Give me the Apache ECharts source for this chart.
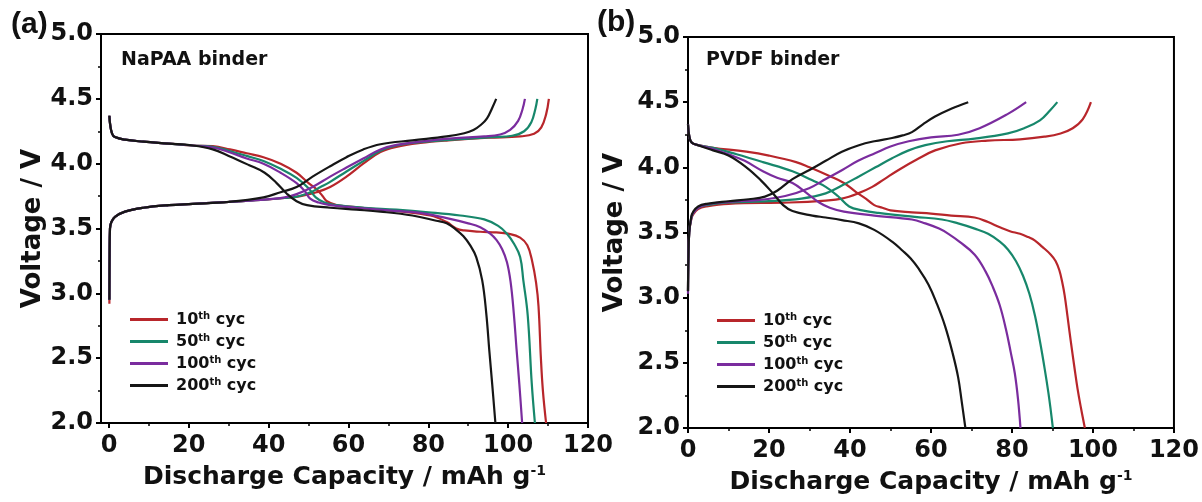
<!DOCTYPE html>
<html>
<head>
<meta charset="utf-8">
<script src="https://cdn.jsdelivr.net/npm/echarts@6/dist/echarts.min.js"></script>
<style>
html, body { margin: 0; padding: 0; background: #fff; }
#chart { width: 1202px; height: 502px; }
</style>
</head>
<body>
<div id="chart"></div>
<script>
// tick values
const xTicks = [0, 20, 40, 60, 80, 100, 120]
const xMinor = [10, 30, 50, 70, 90, 110]
const yTicks = [2.0, 2.5, 3.0, 3.5, 4.0, 4.5, 5.0]
const yMinor = [2.25, 2.75, 3.25, 3.75, 4.25, 4.75]

const cycles = ['10', '50', '100', '200']
const colors = ['#b8262b', '#17876b', '#7a2c9e', '#161616']

// (a) NaPAA binder, [capacity, voltage]
const napaaCharge10 = [[0.1, 2.92], [0.15, 3.3], [0.25, 3.5], [0.6, 3.55], [1.5, 3.59], [4, 3.63], [8.6, 3.66], [15, 3.68], [21, 3.69], [30, 3.705], [38, 3.72], [44, 3.735], [48, 3.75], [52, 3.78], [55.4, 3.82], [59.5, 3.9], [63.7, 4.0], [68, 4.09], [72, 4.13], [78, 4.16], [85, 4.18], [95, 4.2], [103, 4.21], [106.5, 4.23], [108.3, 4.28], [109.5, 4.38], [110.2, 4.5]]
const napaaCharge50 = [[0.1, 2.95], [0.15, 3.3], [0.25, 3.5], [0.6, 3.55], [1.5, 3.59], [4, 3.63], [8.6, 3.66], [15, 3.68], [21, 3.69], [30, 3.705], [38, 3.72], [44, 3.735], [47, 3.745], [50.5, 3.78], [53, 3.82], [55.4, 3.86], [59.5, 3.94], [63.7, 4.02], [68, 4.1], [72, 4.14], [78, 4.165], [86, 4.185], [96, 4.205], [101, 4.215], [104, 4.25], [105.8, 4.32], [106.8, 4.42], [107.3, 4.5]]
const napaaCharge100 = [[0.1, 2.95], [0.15, 3.3], [0.25, 3.5], [0.6, 3.55], [1.5, 3.59], [4, 3.63], [8.6, 3.66], [15, 3.68], [21, 3.69], [30, 3.705], [38, 3.72], [44, 3.74], [47, 3.765], [51, 3.82], [55.4, 3.9], [59.5, 3.97], [63.7, 4.04], [68, 4.11], [72, 4.145], [78, 4.17], [86, 4.195], [94, 4.21], [98, 4.225], [100.5, 4.26], [102.5, 4.33], [103.6, 4.42], [104.2, 4.5]]
const napaaCharge200 = [[0.1, 2.95], [0.15, 3.3], [0.25, 3.5], [0.6, 3.55], [1.5, 3.59], [4, 3.63], [8.6, 3.66], [15, 3.68], [21, 3.69], [30, 3.705], [38.7, 3.74], [43, 3.78], [47, 3.82], [51, 3.9], [55.4, 3.98], [59.5, 4.05], [63.7, 4.11], [68, 4.15], [76, 4.18], [84.6, 4.21], [89, 4.235], [91.3, 4.26], [93.2, 4.3], [94.7, 4.35], [96, 4.43], [97, 4.5]]

const napaaDisch10 = [[0.1, 4.37], [0.3, 4.3], [0.8, 4.23], [1.5, 4.205], [4, 4.185], [8.6, 4.17], [15, 4.155], [21, 4.14], [26, 4.135], [30.3, 4.11], [34.5, 4.08], [38.7, 4.05], [43, 4.0], [47, 3.93], [50, 3.85], [52.1, 3.8], [53.5, 3.75], [54.6, 3.71], [57, 3.68], [59.6, 3.67], [65, 3.655], [72, 3.635], [80.5, 3.6], [84.6, 3.55], [87, 3.5], [89, 3.485], [93, 3.475], [97, 3.47], [100, 3.46], [103, 3.43], [104.8, 3.37], [106, 3.25], [107, 3.08], [107.6, 2.9], [108.2, 2.5], [108.7, 2.25], [109.5, 2.0]]
const napaaDisch50 = [[0.1, 4.37], [0.3, 4.3], [0.8, 4.23], [1.5, 4.205], [4, 4.185], [8.6, 4.17], [15, 4.155], [21, 4.14], [26, 4.13], [30, 4.1], [34.5, 4.06], [38.7, 4.02], [43, 3.96], [47, 3.89], [50, 3.81], [51.8, 3.74], [54, 3.7], [57, 3.68], [64, 3.66], [72, 3.645], [80, 3.625], [88, 3.6], [94, 3.57], [97.5, 3.52], [99.7, 3.46], [101.5, 3.38], [103, 3.28], [103.8, 3.1], [104.9, 2.83], [105.9, 2.31], [106.7, 2.0]]
const napaaDisch100 = [[0.1, 4.37], [0.3, 4.3], [0.8, 4.23], [1.5, 4.205], [4, 4.185], [8.6, 4.17], [15, 4.155], [21, 4.14], [26, 4.125], [30, 4.09], [34.5, 4.04], [38.7, 4.0], [43, 3.93], [47, 3.85], [49, 3.79], [50.4, 3.73], [52.5, 3.7], [55.4, 3.68], [62, 3.66], [70, 3.64], [78, 3.62], [84.6, 3.58], [90, 3.54], [93, 3.51], [95.5, 3.46], [97.1, 3.41], [98.5, 3.34], [99.7, 3.24], [100.6, 3.09], [101.4, 2.85], [102.1, 2.57], [102.8, 2.3], [103.5, 2.0]]
const napaaDisch200 = [[0.1, 4.37], [0.3, 4.3], [0.8, 4.23], [1.5, 4.205], [4, 4.185], [8.6, 4.17], [15, 4.155], [21, 4.14], [26, 4.11], [30, 4.06], [35, 3.99], [39, 3.93], [42, 3.85], [44.5, 3.77], [47, 3.71], [49.6, 3.68], [55.4, 3.66], [62, 3.645], [68, 3.63], [76, 3.6], [82, 3.56], [84.6, 3.54], [87, 3.49], [88.8, 3.44], [90.5, 3.37], [92, 3.28], [93.5, 3.1], [94.5, 2.85], [95.3, 2.55], [96, 2.3], [96.8, 2.0]]

// (b) PVDF binder
const pvdfCharge10 = [[0, 3.05], [0.1, 3.3], [0.3, 3.5], [0.8, 3.6], [1.3, 3.64], [2.5, 3.68], [4.6, 3.7], [10, 3.72], [25, 3.73], [34, 3.745], [38, 3.76], [42, 3.8], [45.5, 3.85], [48.5, 3.91], [52, 3.98], [56.5, 4.06], [61, 4.13], [67.5, 4.185], [74, 4.205], [82, 4.215], [88, 4.235], [92, 4.26], [95, 4.3], [97.5, 4.37], [99.5, 4.5]]
const pvdfCharge50 = [[0, 3.05], [0.1, 3.3], [0.3, 3.5], [0.8, 3.61], [1.3, 3.65], [2.5, 3.69], [4.6, 3.71], [10, 3.73], [20, 3.74], [28, 3.76], [34, 3.8], [38, 3.86], [42.2, 3.93], [46.3, 4.0], [50.4, 4.07], [54.5, 4.13], [58.6, 4.17], [64, 4.2], [70.8, 4.22], [79, 4.26], [83, 4.3], [86.9, 4.36], [89.5, 4.44], [91.2, 4.5]]
const pvdfCharge100 = [[0, 3.03], [0.1, 3.3], [0.3, 3.5], [0.8, 3.61], [1.3, 3.65], [2.5, 3.69], [4.6, 3.715], [10, 3.735], [17.7, 3.75], [24, 3.78], [29.9, 3.84], [34, 3.91], [38.1, 3.98], [42, 4.05], [46.3, 4.11], [50, 4.16], [54.5, 4.2], [60, 4.23], [66.7, 4.25], [72, 4.3], [79, 4.41], [83.5, 4.5]]
const pvdfCharge200 = [[0, 3.05], [0.1, 3.3], [0.3, 3.5], [0.8, 3.62], [1.3, 3.66], [2.5, 3.7], [4.6, 3.72], [10, 3.74], [15, 3.755], [19, 3.775], [22, 3.82], [25.8, 3.91], [30, 3.98], [34, 4.05], [38, 4.12], [42.2, 4.17], [46, 4.2], [50.4, 4.225], [53, 4.245], [55.3, 4.27], [58, 4.33], [61, 4.39], [65, 4.45], [69.2, 4.5]]

const pvdfDisch10 = [[0, 4.33], [0.3, 4.24], [0.9, 4.19], [2.5, 4.17], [6.2, 4.15], [14.4, 4.12], [20, 4.09], [26.7, 4.04], [30, 4.0], [34.8, 3.935], [38.5, 3.88], [41.5, 3.81], [43.9, 3.76], [46, 3.71], [48, 3.69], [50, 3.67], [55.3, 3.655], [60, 3.645], [65, 3.63], [70.8, 3.615], [74.1, 3.58], [77, 3.54], [79.5, 3.51], [82, 3.49], [84, 3.465], [85.6, 3.44], [87.5, 3.39], [89.6, 3.33], [90.8, 3.28], [91.7, 3.21], [92.4, 3.12], [93, 3.02], [93.7, 2.86], [94.5, 2.67], [95.4, 2.47], [96.2, 2.3], [97, 2.16], [98, 2.0]]
const pvdfDisch50 = [[0, 4.33], [0.3, 4.24], [0.9, 4.19], [2.5, 4.17], [6.2, 4.15], [12, 4.1], [18.5, 4.04], [25.8, 3.97], [30.7, 3.9], [34, 3.85], [37, 3.78], [39.8, 3.7], [43, 3.67], [47, 3.65], [56, 3.62], [62.7, 3.6], [66.7, 3.57], [70.8, 3.53], [74.1, 3.49], [77, 3.43], [79, 3.37], [81, 3.28], [82.7, 3.17], [84.3, 3.03], [85.7, 2.86], [87, 2.65], [88.1, 2.45], [89, 2.27], [89.6, 2.13], [90.1, 2.0]]
const pvdfDisch100 = [[0, 4.33], [0.3, 4.24], [0.9, 4.19], [2.5, 4.17], [6.2, 4.14], [10, 4.1], [14, 4.05], [18.5, 3.97], [22, 3.92], [25.8, 3.88], [29, 3.81], [32.4, 3.73], [35, 3.69], [38.5, 3.66], [46, 3.63], [55.3, 3.6], [58.6, 3.57], [62, 3.53], [64.3, 3.49], [67, 3.43], [70.8, 3.33], [73.5, 3.2], [75.3, 3.08], [77, 2.94], [78.5, 2.76], [79.7, 2.58], [80.7, 2.42], [81.5, 2.22], [82.1, 2.0]]
const pvdfDisch200 = [[0, 4.33], [0.3, 4.24], [0.9, 4.19], [2.5, 4.17], [6.2, 4.13], [10, 4.09], [14.4, 4.0], [18, 3.9], [21, 3.8], [23.5, 3.71], [25.8, 3.665], [30.7, 3.63], [34, 3.615], [38, 3.595], [42.2, 3.57], [46, 3.52], [50.4, 3.43], [53, 3.36], [55, 3.3], [57, 3.22], [59.4, 3.1], [61.5, 2.95], [63.5, 2.78], [65.3, 2.58], [66.7, 2.39], [67.6, 2.2], [68.5, 2.0]]

const napaaCharge = [napaaCharge10, napaaCharge50, napaaCharge100, napaaCharge200]
const napaaDisch = [napaaDisch10, napaaDisch50, napaaDisch100, napaaDisch200]
const pvdfCharge = [pvdfCharge10, pvdfCharge50, pvdfCharge100, pvdfCharge200]
const pvdfDisch = [pvdfDisch10, pvdfDisch50, pvdfDisch100, pvdfDisch200]

const FONT = 'DejaVu Sans'

function xAxes(grid, min) {
  return [{
    type: 'value', gridIndex: grid, min: min, max: 120, position: 'bottom',
    name: '{a|Discharge Capacity / mAh g}{s|-1}', nameLocation: 'middle', nameGap: 41,
    nameTextStyle: {
      rich: {
        a: { fontFamily: FONT, fontWeight: 'bold', fontSize: 25, color: '#111' },
        s: { fontFamily: FONT, fontWeight: 'bold', fontSize: 14, color: '#111', padding: [0, 0, 12, 0] }
      }
    },
    axisLine: { onZero: false, lineStyle: { color: '#000', width: 2 } },
    axisTick: { customValues: xTicks, length: 5, lineStyle: { color: '#000', width: 2 } },
    axisLabel: { customValues: xTicks, margin: 11, fontFamily: FONT, fontWeight: 'bold', fontSize: 24, color: '#111' },
    splitLine: { show: false }
  }, {
    type: 'value', gridIndex: grid, min: min, max: 120, position: 'bottom',
    axisLine: { show: false, onZero: false },
    axisTick: { customValues: xMinor, length: 3, lineStyle: { color: '#000', width: 1.5 } },
    axisLabel: { show: false },
    splitLine: { show: false }
  }]
}

function yAxes(grid, gap) {
  return [{
    type: 'value', gridIndex: grid, min: 2, max: 5, position: 'left',
    name: 'Voltage / V', nameLocation: 'middle', nameGap: gap,
    nameTextStyle: { fontFamily: FONT, fontWeight: 'bold', fontSize: 26, color: '#111' },
    axisLine: { onZero: false, lineStyle: { color: '#000', width: 2 } },
    axisTick: { customValues: yTicks, length: 5, lineStyle: { color: '#000', width: 2 } },
    axisLabel: {
      customValues: yTicks, margin: 8, fontFamily: FONT, fontWeight: 'bold', fontSize: 24, color: '#111',
      formatter: v => v.toFixed(1)
    },
    splitLine: { show: false }
  }, {
    type: 'value', gridIndex: grid, min: 2, max: 5, position: 'left',
    axisLine: { show: false, onZero: false },
    axisTick: { customValues: yMinor, length: 3, lineStyle: { color: '#000', width: 1.5 } },
    axisLabel: { show: false },
    splitLine: { show: false }
  }]
}

function curve(name, data, color, axis) {
  return {
    type: 'line', name: name, data: data,
    xAxisIndex: axis, yAxisIndex: axis,
    symbol: 'none', showSymbol: false,
    smooth: 0.4,
    lineStyle: { width: 2.2, color: color },
    itemStyle: { color: color },
    emphasis: { disabled: true }
  }
}

let series = []
cycles.forEach((c, i) => {
  let name = c + 'th cyc'
  series.push(curve(name, napaaCharge[i], colors[i], 0))
  series.push(curve(name, napaaDisch[i], colors[i], 0))
  series.push(curve(name, pvdfCharge[i], colors[i], 2))
  series.push(curve(name, pvdfDisch[i], colors[i], 2))
})

function legend(left, top) {
  return {
    orient: 'vertical', left: left, top: top, padding: 0, itemGap: 5.5,
    icon: 'rect', itemWidth: 38, itemHeight: 3,
    data: cycles.map(c => c + 'th cyc'),
    formatter: name => name.replace(/^(\d+)th cyc$/, '{n|$1}{s|th}{n| cyc}'),
    textStyle: {
      fontFamily: FONT, fontWeight: 'bold', fontSize: 16, color: '#111', padding: [0, 0, 0, 3],
      rich: {
        n: { fontFamily: FONT, fontWeight: 'bold', fontSize: 16, lineHeight: 18, color: '#111' },
        s: { fontFamily: FONT, fontWeight: 'bold', fontSize: 10, color: '#111', padding: [0, 0, 7, 0] }
      }
    },
    selectedMode: false
  }
}

let chart = echarts.init(document.getElementById('chart'))
chart.setOption({
  animation: false,
  backgroundColor: '#fff',
  grid: [
    { left: 101, top: 34, width: 487, height: 389, show: true, borderColor: '#000', borderWidth: 2 },
    { left: 688, top: 37, width: 489, height: 391, show: true, borderColor: '#000', borderWidth: 2 }
  ],
  xAxis: xAxes(0, -2).concat(xAxes(1, 0)),
  yAxis: yAxes(0, 54).concat(yAxes(1, 60)),
  legend: [legend(130, 311), legend(717, 312)],
  graphic: [
    { type: 'text', left: 11, top: 10, style: { text: '(a)', font: 'bold 30px "Liberation Sans"', fill: '#111' } },
    { type: 'text', left: 597, top: 8, style: { text: '(b)', font: 'bold 30px "Liberation Sans"', fill: '#111' } },
    { type: 'text', left: 121, top: 51, style: { text: 'NaPAA binder', font: 'bold 19px "DejaVu Sans"', fill: '#111' } },
    { type: 'text', left: 706, top: 51, style: { text: 'PVDF binder', font: 'bold 19px "DejaVu Sans"', fill: '#111' } }
  ],
  series: series
})
</script>
</body>
</html>
